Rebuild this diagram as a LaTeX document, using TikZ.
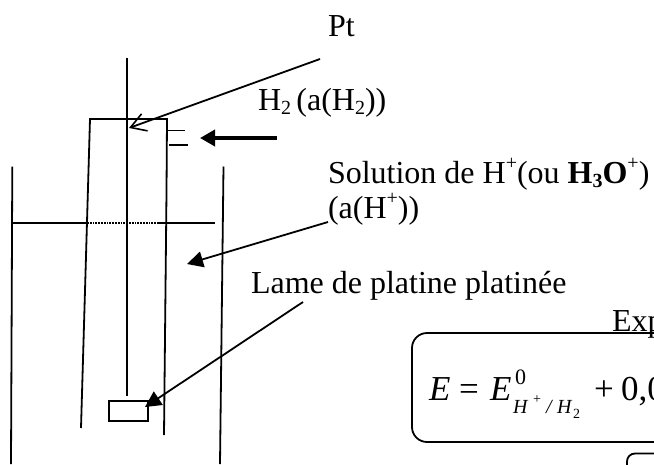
\documentclass[tikz,border=0pt]{standalone}
\usepackage{fontspec}
\setmainfont{Liberation Serif}
\usetikzlibrary{arrows.meta}
\tikzset{
  x=1pt,y=-1pt,
  wire/.style={line width=1.8pt,black},
  lbl/.style={anchor=base west,inner sep=0pt,outer sep=0pt,font=\fontsize{32}{36}\selectfont},
  solidhead/.style={wire,-{Stealth[length=16pt,width=16pt,inset=0pt]}},
  openhead/.style={wire,-{Straight Barb[length=15pt,width=18pt,line width=1.6pt]}},
  thickhead/.style={line width=3.6pt,-{Stealth[length=15pt,width=16pt,inset=0pt]}},
  eqbox/.style={line width=1.8pt,rounded corners=15pt},
  eqbig/.style={lbl,font=\fontsize{35}{36}\selectfont},
  eqsub/.style={lbl,font=\fontsize{20}{20}\selectfont},
  eqtiny/.style={lbl,font=\fontsize{14}{14}\selectfont}
}
\newcommand{\sbs}[1]{\raisebox{-0.13em}{\fontsize{20}{20}\selectfont #1}}
\newcommand{\sps}[1]{\raisebox{0.42em}{\fontsize{20}{20}\selectfont #1}}
\begin{document}
\begin{tikzpicture}
\useasboundingbox (0,0) rectangle (654,464);
\clip (0,0) rectangle (654,464);
% labels
\node[lbl] (pt) at (328,36.5) {Pt};
\node[lbl] (h2) at (258,110) {H\sbs{2}\,(a(H\sbs{2}))};
\node[lbl] (sol) at (328,183) {Solution de H\sps{+}(ou \textbf{H\sbs{3}O}\sps{+})};
\node[lbl] (act) at (328,218) {(a(H\sps{+}))};
\node[lbl] (lame) at (251,293) {Lame de platine platinée};
\node[lbl] (exp) at (612,331) {Exp};
% coordinates
\coordinate (wireT) at (127,58);
\coordinate (wireB) at (127,396);
\coordinate (ptS) at (320,59);
\coordinate (ptE) at (129,128);
\coordinate (solS) at (328,222);
\coordinate (solE) at (187,264);
\coordinate (lameS) at (303,302);
\coordinate (lameE) at (145,407);
\coordinate (gasS) at (276.5,138);
\coordinate (gasE) at (200,138);
% electrode
\draw[wire] (wireT) -- (wireB);
\node[draw,wire,minimum width=39pt,minimum height=20pt,inner sep=0pt,anchor=north west] (plate) at (108,400) {};
% inner tube
\draw[wire] (81,428) -- (90,119) -- (167,119) -- (166.5,192) -- (164,435);
\draw[wire] (167,130.5) -- (185,130.5);
\draw[wire] (169,145) -- (188,145);
% outer vessel
\draw[wire] (12.3,166.5) -- (11,464);
\draw[wire] (223.5,166.5) -- (220,464);
% liquid level
\draw[wire] (12,223) -- (87,223);
\draw[wire,densely dotted] (87,223) -- (158,223);
\draw[wire] (158,223) -- (215,223);
% arrows
\draw[openhead] (ptS) -- (ptE);
\draw[thickhead] (gasS) -- (gasE);
\draw[solidhead] (solS) -- (solE);
\draw[solidhead] (lameS) -- (lameE);
% equation
\draw[eqbox] (680,333) -- (412,333) -- (412,442) -- (680,442);
\draw[eqbox,rounded corners=8pt] (680,453.5) -- (627,453.5) -- (627,480);
\node[eqbig] (eqa) at (429,400) {\textit{E}};
\node[eqbig] (eqb) at (459,400) {=};
\node[eqbig] (eqc) at (490,400) {\textit{E}};
\node[lbl,font=\fontsize{22}{22}\selectfont] (eq0) at (515,384) {0};
\node[eqsub] (eqd) at (513,413) {\textit{H}};
\node[eqtiny] (eqe) at (533,403) {+};
\node[eqsub] (eqf) at (546,413) {\textit{/}};
\node[eqsub] (eqg) at (557,413) {\textit{H}};
\node[eqtiny] (eqh) at (573,418) {2};
\node[eqbig] (eqi) at (594,400) {+};
\node[eqbig] (eqj) at (621,400) {0,0};
\end{tikzpicture}
\end{document}
